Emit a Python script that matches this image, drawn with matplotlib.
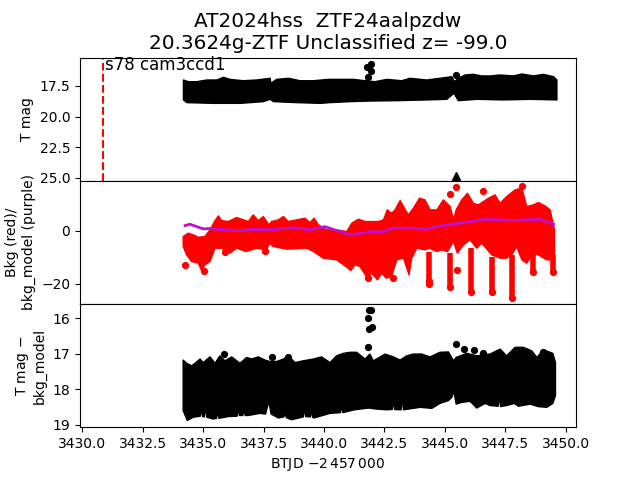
from matplotlib import pyplot as plt

TITLE = "AT2024hss  ZTF24aalpzdw\n20.3624g-ZTF Unclassified z= -99.0"
SECTOR_LABEL = "s78 cam3ccd1"
SECTOR_START = 3430.85

# top panel: T mag band, upper and lower edge of the dense points
mag_top_t = [3434.18, 3434.39, 3434.73, 3435.15, 3435.56, 3435.84, 3436.11, 3436.66, 3437.22, 3437.77,
             3437.8, 3438.04, 3438.53, 3439.01, 3439.56, 3440.18, 3440.66, 3441.22, 3441.7, 3442.11,
             3442.6, 3443.22, 3443.56, 3444.25, 3444.8, 3445.29, 3445.4, 3445.56, 3445.84, 3446.18,
             3446.53, 3446.88, 3447.29, 3447.84, 3448.19, 3448.67, 3449.08, 3449.5, 3449.64]
mag_top = [17.01, 17.15, 17.15, 17.01, 17.01, 16.79, 16.96, 17.07, 17.01, 16.87,
           17.28, 16.96, 16.87, 17.07, 17.07, 16.96, 16.96, 16.96, 17.07, 17.15,
           16.96, 17.07, 16.87, 17.01, 16.87, 16.74, 17.15, 16.87, 16.6, 16.55,
           16.68, 16.68, 16.6, 16.68, 16.52, 16.68, 16.55, 16.74, 17.01]
mag_bottom_t = [3434.18, 3434.32, 3435.42, 3436.53, 3437.49, 3437.77, 3437.91, 3438.87, 3439.84, 3440.25,
                3441.08, 3441.91, 3443.01, 3444.25, 3445.08, 3445.38, 3445.56, 3446.32, 3447.43, 3448.53, 3449.64]
mag_bottom = [18.64, 18.86, 18.92, 18.92, 18.78, 18.59, 18.78, 18.86, 18.92, 18.86,
              18.78, 18.73, 18.7, 18.64, 18.59, 18.1, 18.7, 18.59, 18.64, 18.59, 18.64]
mag_out_t = [3441.93, 3441.77, 3441.95, 3441.8, 3445.47]
mag_out_y = [15.7, 15.98, 16.25, 16.79, 16.6]
limit_t = [3445.47]
limit_y = [24.85]

# middle panel: background band, dips and model
bkg_top_t = [3434.17, 3434.38, 3434.59, 3434.8, 3435.07, 3435.28, 3435.49, 3435.63, 3435.76, 3436.04,
             3436.38, 3436.59, 3436.87, 3437.07, 3437.28, 3437.49, 3437.72, 3437.83, 3438.11, 3438.32,
             3438.52, 3438.87, 3439.21, 3439.42, 3439.59, 3439.77, 3440.11, 3440.52, 3440.94, 3441.15,
             3441.42, 3441.7, 3441.97, 3442.25, 3442.46, 3442.62, 3442.8, 3442.94, 3443.15, 3443.29,
             3443.49, 3443.7, 3443.95, 3444.18, 3444.39, 3444.67, 3444.94, 3445.22, 3445.36, 3445.47,
             3445.7, 3445.94, 3446.18, 3446.39, 3446.6, 3446.81, 3447.08, 3447.29, 3447.56, 3447.91,
             3448.19, 3448.39, 3448.67, 3448.87, 3449.15, 3449.36, 3449.54]
bkg_top = [-2.13, -0.88, -1.5, -2.39, -2.13, 0.38, 3.9, 5.66, 3.9, 3.53,
           5.04, 4.41, 3.53, 6.04, 3.9, 5.41, 2.27, 3.53, 4.16, 5.41,
           3.53, 4.16, 4.78, 3.15, 4.78, 2.27, 0.38, 0.38, -0.25, 2.9,
           4.41, 3.53, 3.53, 3.53, 4.16, 7.93, 6.67, 7.93, 11.45, 9.19,
           6.04, 8.56, 12.33, 11.7, 7.93, 7.93, 11.7, 9.19, 4.16, 7.93,
           11.7, 14.22, 10.45, 9.82, 11.07, 12.33, 13.59, 10.45, 12.96, 15.48,
           16.1, 9.19, 9.82, 10.7, 9.44, 7.93, 0.38]
bkg_bottom_t = [3434.17, 3434.31, 3434.52, 3434.8, 3434.93, 3435.07, 3435.28, 3435.49, 3435.76, 3436.11,
                3436.38, 3436.77, 3437.21, 3437.63, 3437.74, 3437.9, 3438.45, 3439.28, 3439.56, 3439.97,
                3440.52, 3440.94, 3441.11, 3441.28, 3441.49, 3441.8, 3441.97, 3442.21, 3442.39, 3442.57,
                3442.8, 3443.01, 3443.29, 3443.52, 3443.63, 3443.84, 3444.18, 3444.36, 3444.67, 3444.87,
                3445.11, 3445.36, 3445.52, 3445.77, 3446.05, 3446.32, 3446.53, 3446.94, 3447.29, 3447.56,
                3447.77, 3447.98, 3448.05, 3448.19, 3448.39, 3448.67, 3448.87, 3449.22, 3449.43, 3449.54]
bkg_bottom = [-5.9, -9.05, -11.57, -12.2, -14.96, -12.83, -11.57, -6.54, -6.54, -8.42,
              -6.54, -7.79, -6.54, -7.17, -4.65, -5.9, -6.91, -6.54, -7.79, -10.31,
              -10.94, -13.7, -14.96, -12.83, -13.45, -17.86, -15.97, -18.49, -15.97, -17.86,
              -17.23, -10.94, -10.31, -16.6, -10.31, -6.54, -7.17, -6.54, -7.79, -7.17,
              -7.79, -4.02, -8.42, -5.28, -3.39, -6.54, -4.65, -9.05, -10.31, -10.31,
              -9.05, -5.9, -7.79, -10.94, -12.2, -8.42, -9.05, -10.94, -10.94, -14.71]
dip_t = [3444.36, 3445.22, 3446.07, 3446.94, 3447.8, 3448.67, 3449.47]
dip_high = [-7.8, -8.4, -6.5, -10.0, -9.0, -6.5, -9.0]
dip_low = [-19.1, -21.0, -22.9, -22.9, -25.4, -15.4, -15.4]
bkg_out_t = [3445.48, 3448.19, 3446.6, 3445.2, 3442.87, 3445.52, 3444.36, 3434.25, 3435.02, 3435.9, 3437.55, 3441.8]
bkg_out_y = [16.5, 17.0, 15.1, 13.8, -17.8, -14.7, -20.0, -12.9, -15.2, -7.8, -7.5, -17.8]
model_t = [3434.25, 3434.45, 3435.0, 3435.28, 3435.83, 3436.52, 3437.07, 3437.76, 3438.73, 3439.42,
           3440.04, 3440.53, 3441.08, 3441.75, 3441.9, 3442.46, 3442.8, 3443.7, 3444.25, 3444.67,
           3445.36, 3446.04, 3446.67, 3447.85, 3448.95, 3449.5]
model_y = [2.0, 2.5, 0.75, 0.9, 0.4, 0.1, 0.6, 0.4, 1.2, 0.4,
           1.6, 0.1, -1.5, -0.6, -0.3, -0.3, 1.0, 1.0, 0.6, 1.6,
           2.6, 3.5, 4.4, 3.9, 4.4, 2.6]

# bottom panel: T mag - bkg_model band
diff_top_t = [3434.17, 3434.31, 3434.52, 3434.66, 3434.87, 3435.0, 3435.28, 3435.49, 3435.69, 3435.9,
              3436.18, 3436.52, 3436.8, 3437.0, 3437.28, 3437.56, 3437.76, 3438.04, 3438.32, 3438.52,
              3438.8, 3439.14, 3439.56, 3439.9, 3440.25, 3440.52, 3440.8, 3441.08, 3441.35, 3441.7,
              3441.9, 3442.04, 3442.53, 3442.87, 3443.15, 3443.42, 3443.7, 3444.04, 3444.39, 3444.8,
              3445.15, 3445.36, 3445.47, 3445.91, 3446.32, 3446.87, 3447.29, 3447.56, 3447.91, 3448.25,
              3448.6, 3448.81, 3449.08, 3449.47, 3449.58]
diff_top = [17.18, 17.27, 17.34, 17.27, 17.15, 17.25, 17.09, 17.27, 17.06, 17.2,
            17.09, 17.27, 17.105, 17.15, 17.09, 17.18, 17.22, 17.22, 17.15, 17.06,
            17.25, 17.2, 17.15, 17.09, 17.25, 17.06, 16.99, 16.96, 16.96, 17.15,
            17.01, 17.2, 17.01, 17.09, 17.18, 17.06, 17.01, 17.01, 17.09, 16.96,
            16.95, 17.2, 17.105, 16.99, 17.06, 17.01, 16.87, 17.06, 16.82, 16.82,
            16.92, 17.105, 16.89, 16.99, 17.25]
diff_bottom_t = [3434.17, 3434.34, 3434.59, 3434.88, 3434.93, 3434.98, 3435.05, 3435.1, 3435.15, 3435.42,
                 3435.55, 3435.6, 3435.65, 3436.04, 3436.4, 3436.45, 3436.5, 3436.64, 3436.69, 3436.74,
                 3436.87, 3437.35, 3437.58, 3437.67, 3437.74, 3437.81, 3438.11, 3438.34, 3438.39, 3438.44,
                 3438.66, 3439.14, 3439.19, 3439.24, 3439.44, 3439.49, 3439.54, 3439.59, 3440.25, 3440.68,
                 3440.73, 3440.78, 3441.26, 3441.84, 3442.18, 3442.6, 3442.82, 3442.87, 3442.92, 3443.19,
                 3443.24, 3443.29, 3443.98, 3444.46, 3444.8, 3445.15, 3445.29, 3445.38, 3445.47, 3445.7,
                 3446.05, 3446.32, 3446.67, 3446.87, 3447.21, 3447.26, 3447.31, 3447.56, 3447.88, 3448.05,
                 3448.53, 3448.87, 3449.22, 3449.47, 3449.58]
diff_bottom = [18.6, 18.88, 18.79, 18.76, 18.58, 18.77, 18.78, 18.46, 18.79, 18.84,
               18.82, 18.62, 18.82, 18.77, 18.76, 18.56, 18.74, 18.74, 18.58, 18.74,
               18.74, 18.68, 18.7, 18.46, 18.42, 18.7, 18.81, 18.78, 18.65, 18.8,
               18.86, 18.78, 18.53, 18.77, 18.78, 18.62, 18.8, 18.81, 18.68, 18.66,
               18.46, 18.66, 18.58, 18.53, 18.56, 18.58, 18.57, 18.34, 18.57, 18.58,
               18.23, 18.58, 18.51, 18.54, 18.4, 18.32, 18.23, 18.06, 18.42, 18.37,
               18.34, 18.53, 18.4, 18.46, 18.48, 18.18, 18.49, 18.46, 18.4, 18.48,
               18.42, 18.49, 18.51, 18.4, 18.18]
diff_out_t = [3435.87, 3437.86, 3438.5, 3441.8, 3441.88, 3441.85, 3441.8, 3441.95, 3441.97,
              3445.47, 3445.81, 3446.22, 3446.56, 3449.05]
diff_out_y = [17.01, 17.1, 17.1, 16.0, 15.78, 16.3, 16.8, 15.78, 16.26,
              16.73, 16.87, 16.89, 16.98, 16.95]

XLIM = (3429.9, 3450.43)
PURPLE = "#bf10d0"


def plot_band(ax, top_t, top, bottom_t, bottom, color):
    # outline of the dense points: along the top edge, back along the bottom one
    ax.fill(top_t + bottom_t[::-1], top + bottom[::-1], color=color, linewidth=1, joinstyle="round")


def plot_mag_panel(ax):
    plot_band(ax, mag_top_t, mag_top, mag_bottom_t, mag_bottom, "black")
    ax.plot(mag_out_t, mag_out_y, "o", color="black", ms=4.2)
    ax.plot(limit_t, limit_y, "^", color="black", ms=5.8)
    ax.axvline(SECTOR_START, color="red", ls="--", lw=1.5)
    ax.text(SECTOR_START + 0.1, 16.2, SECTOR_LABEL, fontsize=12)
    ax.set_ylim(25.25, 15.18)
    ax.set_yticks([17.5, 20.0, 22.5, 25.0])
    ax.set_ylabel("T mag")
    ax.tick_params(bottom=False, labelbottom=False)


def plot_bkg_panel(ax):
    plot_band(ax, bkg_top_t, bkg_top, bkg_bottom_t, bkg_bottom, "red")
    ax.vlines(dip_t, dip_low, dip_high, color="red", lw=4)
    ax.plot(dip_t, dip_low, "o", color="red", ms=4.2)
    ax.plot(bkg_out_t, bkg_out_y, "o", color="red", ms=4.2)
    ax.plot(model_t, model_y, color=PURPLE, lw=2)
    ax.set_ylim(-27.6, 18.9)
    ax.set_yticks([-20, 0])
    ax.set_ylabel("Bkg (red)/\nbkg_model (purple)")
    ax.tick_params(bottom=False, labelbottom=False)


def plot_diff_panel(ax):
    plot_band(ax, diff_top_t, diff_top, diff_bottom_t, diff_bottom, "black")
    ax.plot(diff_out_t, diff_out_y, "o", color="black", ms=4.2)
    ax.set_ylim(19.07, 15.6)
    ax.set_yticks([16, 17, 18, 19])
    ax.set_ylabel("T mag $-$\nbkg_model")
    ax.set_xlabel(r"BTJD $-2\,457\,000$")


def main():
    fig, axes = plt.subplots(3, 1, sharex=True, figsize=(6.4, 4.8), dpi=100)
    fig.subplots_adjust(hspace=0)
    plot_mag_panel(axes[0])
    plot_bkg_panel(axes[1])
    plot_diff_panel(axes[2])
    axes[0].set_xlim(*XLIM)
    axes[0].set_title(TITLE, fontsize=14.4)
    fig.savefig("out.png", dpi=100)


if __name__ == "__main__":
    main()
